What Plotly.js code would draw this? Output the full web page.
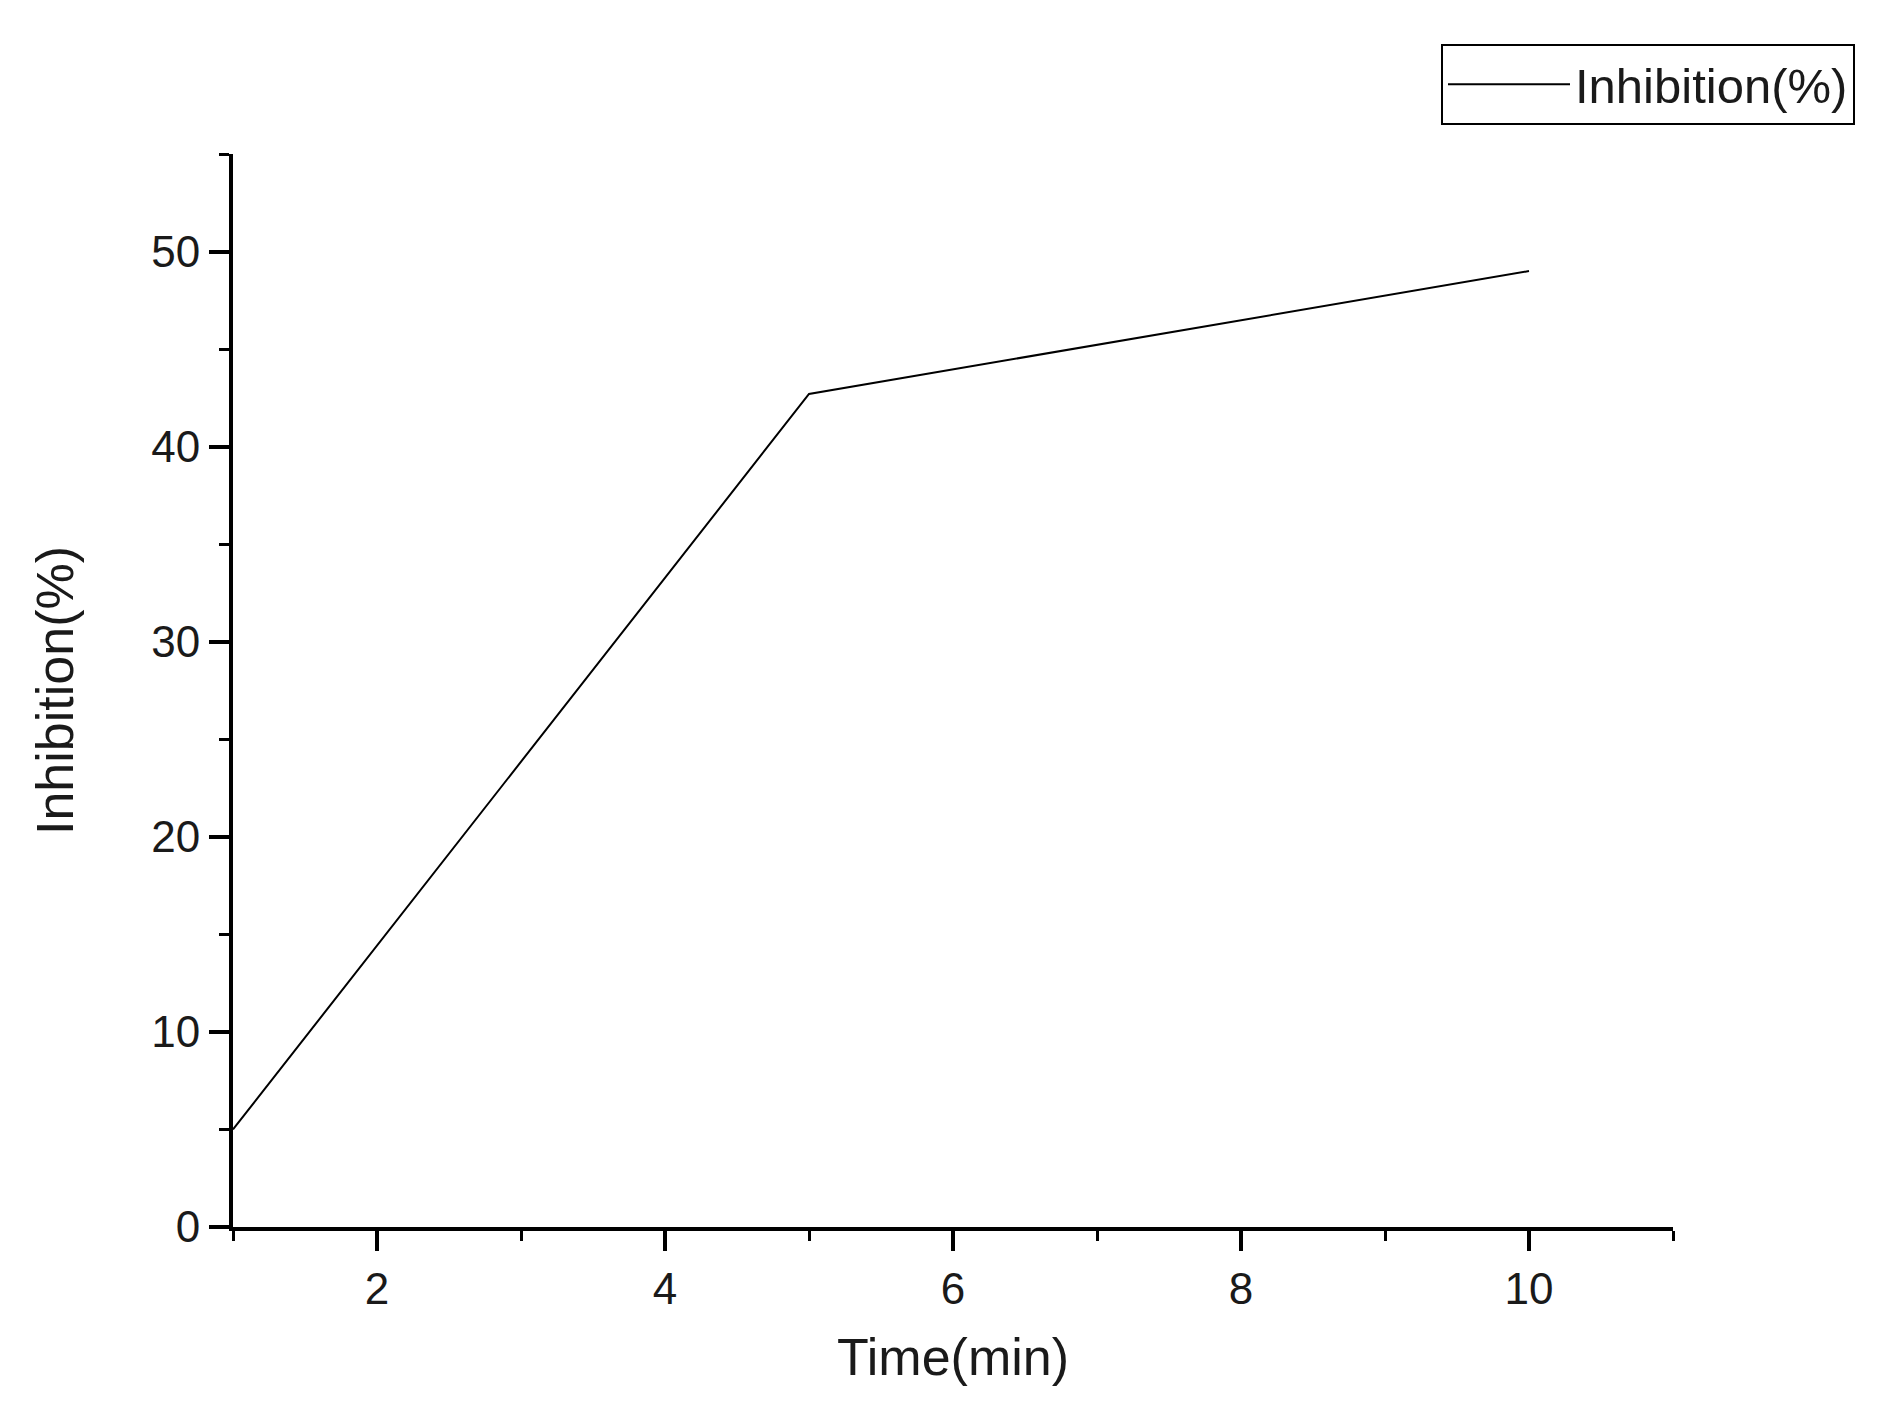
<!DOCTYPE html>
<html>
<head>
<meta charset="utf-8">
<script src="https://cdn.plot.ly/plotly-3.0.1.min.js"></script>
<style>
  html, body { margin: 0; padding: 0; background: #fff; }
  #chart { width: 1888px; height: 1419px; }
</style>
</head>
<body>
<div id="chart"></div>
<script>
const seriesName = "Inhibition(%)";
const timeMin = [1, 5, 10];
const inhibition = [5.0, 42.7, 49.0];
const xTitle = "Time(min)";
const yTitle = "Inhibition(%)";

const FONT = "Liberation Sans, Arial, Helvetica, sans-serif";
const TXT = "#1a1a1a";

const trace = {
  x: timeMin,
  y: inhibition,
  type: "scatter",
  mode: "lines",
  name: seriesName,
  line: { color: "#000", width: 2 },
  showlegend: true
};

const axisCommon = {
  showgrid: false,
  zeroline: false,
  showline: true,
  linecolor: "#000",
  linewidth: 4,
  ticks: "outside",
  ticklen: 20,
  tickwidth: 4,
  tickcolor: "#000",
  tickfont: { family: FONT, size: 44, color: TXT },
  mirror: false
};

const layout = {
  width: 1888,
  height: 1419,
  paper_bgcolor: "#fff",
  plot_bgcolor: "#fff",
  margin: { l: 233, r: 215, t: 154, b: 192, autoexpand: false },
  showlegend: true,
  xaxis: Object.assign({}, axisCommon, {
    range: [1, 11],
    tick0: 0,
    dtick: 2,
    minor: { dtick: 1, tick0: 0, ticks: "outside", ticklen: 10, tickwidth: 3, tickcolor: "#000", showgrid: false },
    title: { text: xTitle, font: { family: FONT, size: 52, color: TXT }, standoff: 28 }
  }),
  yaxis: Object.assign({}, axisCommon, {
    range: [0, 55],
    tick0: 0,
    dtick: 10,
    minor: { dtick: 5, tick0: 0, ticks: "outside", ticklen: 10, tickwidth: 3, tickcolor: "#000", showgrid: false },
    title: { text: yTitle, font: { family: FONT, size: 52, color: TXT }, standoff: 62 }
  }),
  legend: {
    xref: "paper",
    yref: "paper",
    x: (1855 - 233) / 1440,
    xanchor: "right",
    y: (1227 - 44) / 1073,
    yanchor: "top",
    bgcolor: "#fff",
    bordercolor: "#000",
    borderwidth: 2,
    itemwidth: 122,
    font: { family: FONT, size: 49, color: TXT }
  }
};

Plotly.newPlot("chart", [trace], layout, { displayModeBar: false, staticPlot: true });
</script>
</body>
</html>
